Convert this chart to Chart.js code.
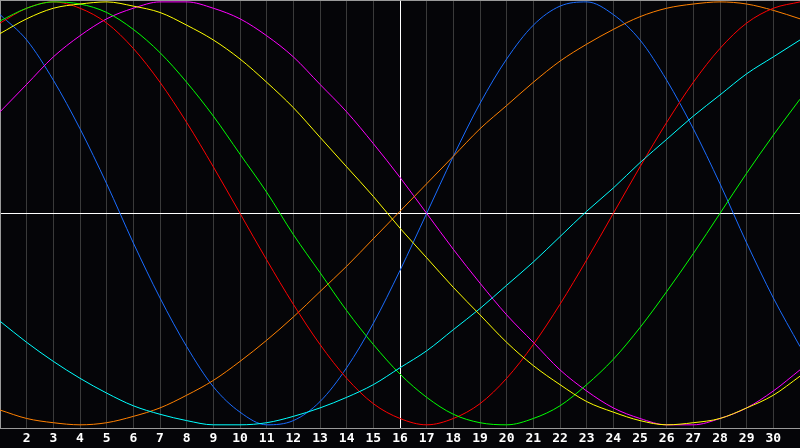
<!DOCTYPE html>
<html>
<head>
<meta charset="utf-8">
<style>
  html, body { margin: 0; padding: 0; background: #050508; }
  canvas { display: block; background: #050508; }
</style>
<script src="https://cdn.jsdelivr.net/npm/chart.js@4.4.0/dist/chart.umd.min.js"></script>
</head>
<body>
<canvas id="bio" width="800" height="448"></canvas>
<script>
  // days of the month, one value per day for each cycle
  const days = [1, 2, 3, 4, 5, 6, 7, 8, 9, 10, 11, 12, 13, 14, 15, 16,
    17, 18, 19, 20, 21, 22, 23, 24, 25, 26, 27, 28, 29, 30, 31];

  const blueValues = [0.94, 0.82, 0.63, 0.40, 0.14, -0.14, -0.40, -0.63, -0.82, -0.94, -1.00,
    -0.98, -0.89, -0.73, -0.52, -0.27, 0.00, 0.27, 0.52, 0.73, 0.89, 0.98, 1.00, 0.94, 0.82,
    0.63, 0.40, 0.14, -0.14, -0.40, -0.63];
  const redValues = [0.90, 0.97, 1.00, 0.97, 0.90, 0.78, 0.62, 0.43, 0.22, 0.00, -0.22,
    -0.43, -0.62, -0.78, -0.90, -0.97, -1.00, -0.97, -0.90, -0.78, -0.62, -0.43, -0.22, 0.00,
    0.22, 0.43, 0.62, 0.78, 0.90, 0.97, 1.00];
  const greenValues = [0.91, 0.97, 1.00, 0.99, 0.95, 0.87, 0.76, 0.62, 0.46, 0.28, 0.10,
    -0.10, -0.28, -0.46, -0.62, -0.76, -0.87, -0.95, -0.99, -1.00, -0.97, -0.91, -0.81, -0.69,
    -0.54, -0.37, -0.19, 0.00, 0.19, 0.37, 0.54];
  const yellowValues = [0.85, 0.92, 0.97, 0.99, 1.00, 0.98, 0.95, 0.89, 0.82, 0.73, 0.62,
    0.50, 0.36, 0.22, 0.08, -0.07, -0.21, -0.35, -0.48, -0.61, -0.72, -0.81, -0.89, -0.94,
    -0.98, -1.00, -0.99, -0.97, -0.92, -0.86, -0.77];
  const magentaValues = [0.48, 0.61, 0.74, 0.84, 0.92, 0.97, 1.00, 1.00, 0.97, 0.92, 0.84,
    0.74, 0.61, 0.48, 0.33, 0.17, 0.00, -0.17, -0.33, -0.48, -0.61, -0.74, -0.84, -0.92,
    -0.97, -1.00, -1.00, -0.97, -0.92, -0.84, -0.74];
  const orangeValues = [-0.93, -0.97, -0.99, -1.00, -0.99, -0.96, -0.92, -0.86, -0.79, -0.70,
    -0.60, -0.49, -0.37, -0.25, -0.12, 0.01, 0.14, 0.27, 0.40, 0.51, 0.62, 0.72, 0.80, 0.87,
    0.93, 0.97, 0.99, 1.00, 0.99, 0.96, 0.92];
  const cyanValues = [-0.51, -0.61, -0.70, -0.78, -0.85, -0.91, -0.95, -0.98, -1.00, -1.00,
    -0.99, -0.96, -0.92, -0.87, -0.81, -0.73, -0.65, -0.55, -0.45, -0.34, -0.23, -0.11, 0.01,
    0.12, 0.24, 0.35, 0.46, 0.56, 0.66, 0.74, 0.82];

  const today = 16;

  function series(values, color) {
    return {
      data: days.map((d, i) => ({ x: d, y: values[i] })),
      borderColor: color,
      borderWidth: 1,
      pointRadius: 0,
      pointHoverRadius: 0,
      cubicInterpolationMode: "monotone",
    };
  }

  const ctx = document.getElementById("bio").getContext("2d");

  const bioChart = new Chart(ctx, {
    type: "line",
    data: {
      datasets: [
        series(yellowValues, "#ffff00"),
        series(cyanValues, "#00ffff"),
        series(greenValues, "#00ff00"),
        series(redValues, "#ff0000"),
        series(orangeValues, "#ff8000"),
        series(magentaValues, "#ff00ff"),
        series(blueValues, "#1a6cff"),
      ],
    },
    options: {
      responsive: false,
      animation: false,
      devicePixelRatio: 1,
      layout: { padding: 0, autoPadding: false },
      plugins: {
        legend: { display: false },
        tooltip: { enabled: false },
      },
      scales: {
        x: {
          type: "linear",
          min: 1,
          max: 31,
          afterFit: (scale) => { scale.height = 20; },
          border: { color: "#9a9a9a", width: 1 },
          grid: {
            drawTicks: true,
            tickLength: 3,
            tickColor: "rgba(0,0,0,0)",
            color: (c) => (c.tick && c.tick.value === today ? "#ffffff" : "#3a3a3a"),
          },
          ticks: {
            stepSize: 1,
            autoSkip: false,
            maxRotation: 0,
            padding: 0,
            color: "#ffffff",
            font: { family: "DejaVu Sans Mono", size: 13, weight: "bold" },
            callback: (v) => (v === 1 || v === 31 ? "" : v),
          },
        },
        xTop: {
          type: "linear",
          position: "top",
          min: 1,
          max: 31,
          afterFit: (scale) => { scale.height = 0; },
          border: { color: "#9a9a9a", width: 1 },
          grid: { display: false, drawTicks: false },
          ticks: { display: false, padding: 0 },
        },
        y: {
          min: -1.015,
          max: 1.009,
          afterFit: (scale) => { scale.width = 0; },
          afterBuildTicks: (scale) => { scale.ticks = [{ value: 0 }]; },
          border: { color: "#9a9a9a", width: 1 },
          grid: { drawTicks: false, color: "#ffffff" },
          ticks: { display: false, padding: 0 },
        },
      },
    },
  });
</script>
</body>
</html>
